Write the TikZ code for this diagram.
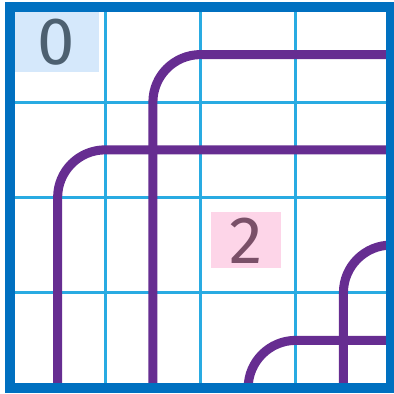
\documentclass[tikz,border=0pt]{standalone}
\usepackage{fontspec}
\setsansfont{Fira Sans}
\usetikzlibrary{positioning}

\definecolor{gridblue}{RGB}{41,171,226}
\definecolor{frameblue}{RGB}{0,112,192}
\definecolor{trackpurple}{RGB}{102,45,145}
\definecolor{zerofill}{RGB}{213,232,251}
\definecolor{zeroink}{RGB}{77,96,112}
\definecolor{twofill}{RGB}{253,213,232}
\definecolor{twoink}{RGB}{122,80,104}

\begin{document}
\begin{tikzpicture}[
    x=2cm, y=2cm,
    gridline/.style={draw=gridblue, line width=1.6pt},
    frame/.style={draw=frameblue, line width=5.6pt},
    track/.style={draw=trackpurple, line width=5.4pt, rounded corners=1cm},
    tag/.style={rectangle, inner sep=0pt, font=\sffamily\fontsize{40}{40}\selectfont},
    zerotag/.style={tag, fill=zerofill, text=zeroink, minimum width=1.77cm, minimum height=1.26cm},
    twotag/.style={tag, fill=twofill, text=twoink, minimum width=1.47cm, minimum height=1.17cm}
]
\useasboundingbox (-0.105,-0.063) rectangle (4.021,4.073);

% Grid
\foreach \k in {1,2,3} {
    \draw[gridline] (\k,0) -- (\k,4);
    \draw[gridline] (0,\k) -- (4,\k);
}

% Labels
\node[zerotag] (zero) at (0.49,3.63) {0};
\node[twotag] (two) at (2.48,1.55) {2};

% Tracks
\draw[track] (0.5,0) -- (0.5,2.5) -- (4,2.5);
\draw[track] (1.5,0) -- (1.5,3.5) -- (4,3.5);
\draw[track] (3.5,0) -- (3.5,1.5) -- (4,1.5);
\draw[track] (2.5,0) -- (2.5,0.5) -- (4,0.5);

% Frame
\draw[frame] (0,0) rectangle (4,4);

\end{tikzpicture}
\end{document}
